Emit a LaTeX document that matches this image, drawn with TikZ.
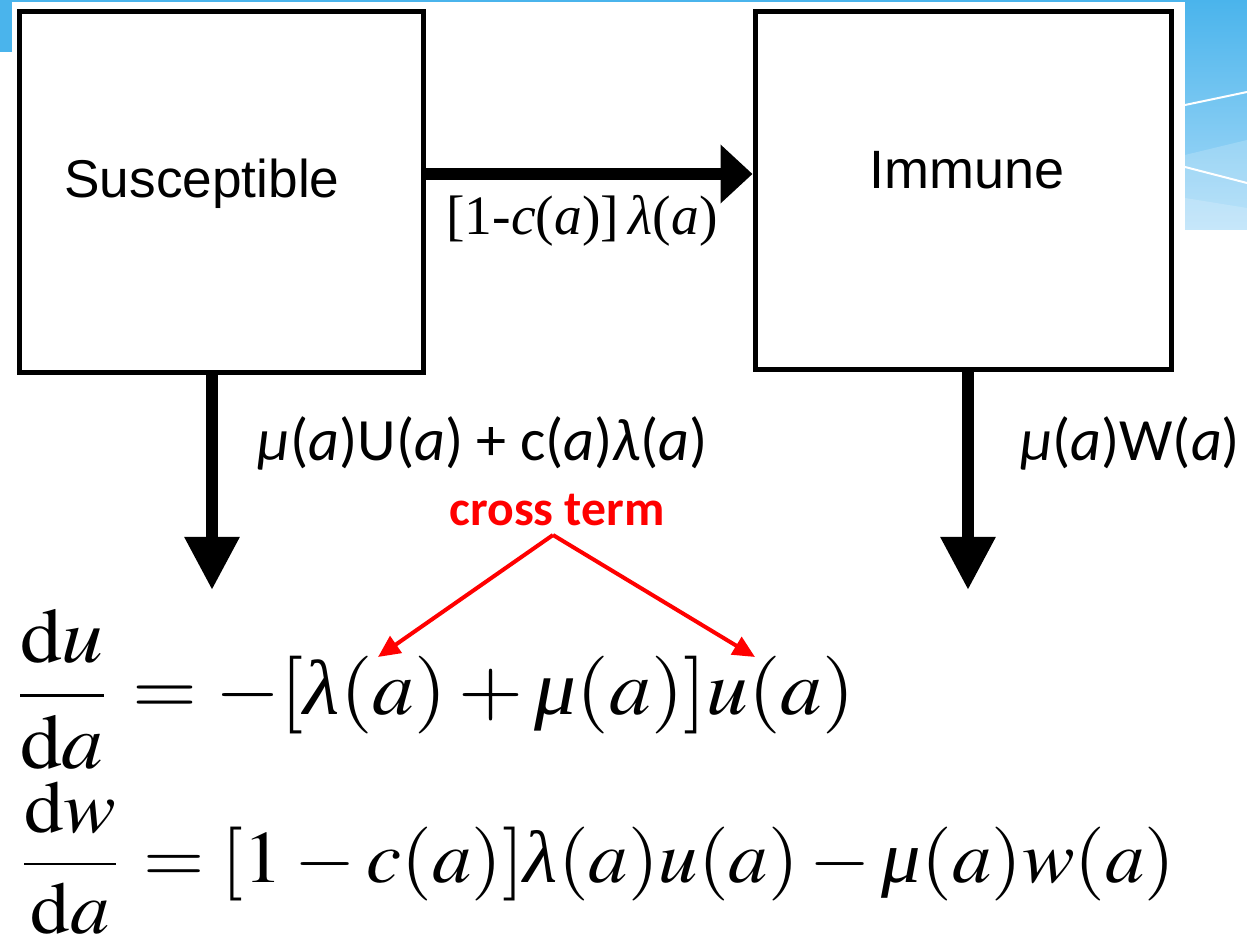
\documentclass[tikz,border=0pt]{standalone}
\usepackage{mathptmx}
\usepackage{fontspec}
\newfontfamily\lsans{Liberation Sans}
\newfontfamily\lserif{Liberation Serif}
\newfontfamily\carl{Carlito}
\newcommand\glam{\mbox{\lserif\itshape λ}}
\newcommand\gmu{\mbox{\lserif\itshape μ}}
\usetikzlibrary{arrows.meta}
\definecolor{slideblue}{HTML}{4AB4EC}
\definecolor{slidelight}{HTML}{ACDCF8}
\begin{document}
\begin{tikzpicture}[x=0.5pt,y=-0.5pt,
  box/.style={draw=black, line width=2.5pt, fill=white, inner sep=0pt},
  fatarrow/.style={line width=6pt, -{Triangle[length=26.5pt,width=26pt]}},
  sidearrow/.style={line width=6pt, -{Triangle[length=16pt,width=28.5pt]}},
  redarrow/.style={draw=red, line width=2pt, -{Triangle[length=11pt,width=10pt]}},
  txt/.style={inner sep=0pt, anchor=center}]
\useasboundingbox (0,0) rectangle (1247,940);
\fill[white] (0,0) rectangle (1247,940);
% slide decoration
\fill[slideblue] (0,0) rectangle (1247,2.5);
\fill[slideblue] (0,0) rectangle (12,52);
\shade[top color=slideblue, bottom color=slidelight] (1185,0) rectangle (1247,230);
\fill[white, opacity=0.18] (1185,155) -- (1247,140) -- (1247,230) -- (1185,230) -- cycle;
\fill[white, opacity=0.18] (1185,198) -- (1247,208) -- (1247,230) -- (1185,230) -- cycle;
\draw[white, line width=1pt] (1185,105) -- (1247,92);
\draw[white, line width=1pt] (1185,167) -- (1247,183);
% boxes
\node[box, minimum width=202pt, minimum height=180.5pt] (S) at (221,192.5) {};
\node[box, minimum width=208pt, minimum height=179pt] (I) at (963,191) {};
\node[txt] (St) at (202,184) {\resizebox{137.5pt}{!}{\lsans Susceptible}};
\node[txt] (It) at (967,170) {\resizebox{97.5pt}{!}{\lsans Immune}};
% arrows
\coordinate (h) at (0,174);
\coordinate (vl) at (212,590);
\coordinate (vr) at (968,590);
\draw[sidearrow] (S.east |- h) -- (I.west |- h);
\draw[fatarrow] (S.south -| vl) -- (vl);
\draw[fatarrow] (I.south -| vr) -- (vr);
% labels
\node[txt] (l1) at (582,221) {\resizebox{135.5pt}{!}{\lserif [1-\textit{c}(\textit{a})]\,\textit{λ}(\textit{a})}};
\node[txt] (l2) at (483,443) {\resizebox{225pt}{!}{\carl \textit{μ}(\textit{a})U(\textit{a}) + c(\textit{a})\textit{λ}(\textit{a})}};
\node[txt] (l3) at (1130,443) {\resizebox{110pt}{!}{\carl \textit{μ}(\textit{a})W(\textit{a})}};
\node[txt, text=red] (ct) at (557,510) {\resizebox{107.5pt}{!}{\carl\bfseries cross term}};
% equations
\node[txt] (e1) at (432.5,689) {\resizebox*{422.5pt}{80pt}{$\displaystyle\frac{\mathrm{d}u}{\mathrm{d}a}=-[\glam(a)+\gmu(a)]u(a)$}};
\node[txt] (e2) at (595,858) {\resizebox*{580pt}{76pt}{$\displaystyle\frac{\mathrm{d}w}{\mathrm{d}a}=[1-c(a)]\glam(a)u(a)-\gmu(a)w(a)$}};
% cross-term pointers
\coordinate (apex) at (553,535);
\coordinate (t1) at (378,657);
\coordinate (t2) at (755,657);
\draw[redarrow] (apex) -- (t1);
\draw[redarrow] (apex) -- (t2);
\end{tikzpicture}
\end{document}
